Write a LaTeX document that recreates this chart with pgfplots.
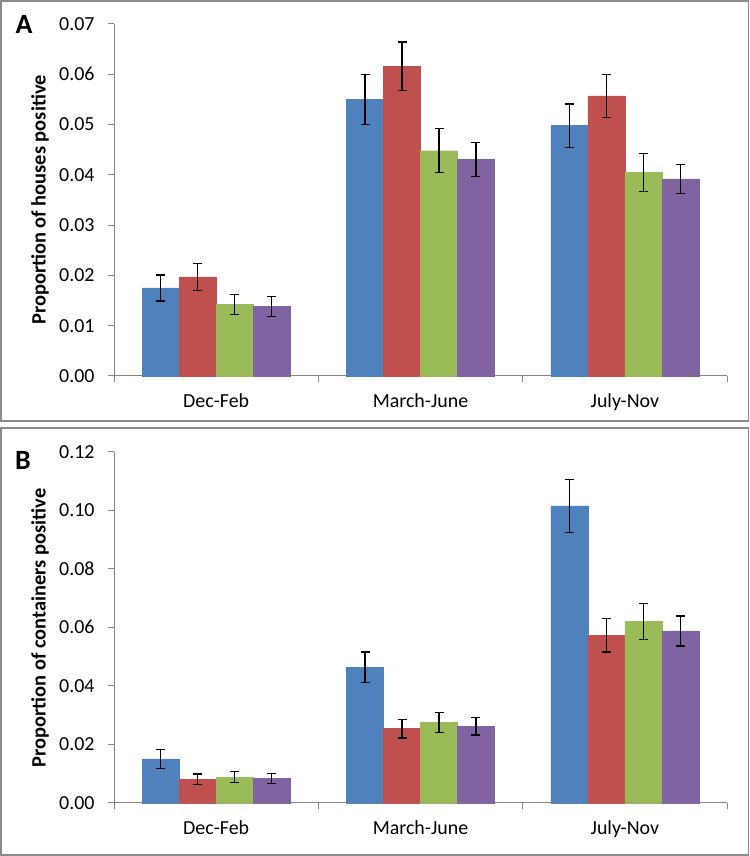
\documentclass[border=0pt]{standalone}
\usepackage{pgfplots}
\pgfplotsset{compat=1.18}
\usepackage{pgfplotstable}
\usepackage{fontspec}
\setmainfont{Carlito}
\definecolor{cblue}{HTML}{4F81BD}
\definecolor{cred}{HTML}{C0504D}
\definecolor{cgreen}{HTML}{9BBB59}
\definecolor{cpurple}{HTML}{8064A2}
\definecolor{axgray}{HTML}{868686}
\definecolor{framegray}{HTML}{8C8C8C}

\pgfplotstableread{
x b be r re g ge p pe
0 0.0175 0.0026 0.0197 0.0027 0.0142 0.0020 0.0138 0.0020
1 0.0550 0.0050 0.0616 0.0048 0.0448 0.0044 0.0431 0.0034
2 0.0498 0.0043 0.0557 0.0043 0.0405 0.0038 0.0392 0.0029
}\dataA
\pgfplotstableread{
x b be r re g ge p pe
0 0.0150 0.0033 0.0080 0.0018 0.0087 0.0019 0.0083 0.0018
1 0.0463 0.0052 0.0253 0.0032 0.0275 0.0034 0.0261 0.0030
2 0.1015 0.0091 0.0572 0.0057 0.0619 0.0062 0.0587 0.0051
}\dataB

\pgfplotsset{
  panel/.style={
    scale only axis, width=613bp, anchor=south west,
    ybar=0pt, bar width=0.181,
    xmin=-0.5, xmax=2.5, ymin=0,
    axis lines*=left,
    axis line style={axgray, line width=1bp},
    xtick={0,1,2}, xticklabels={Dec-Feb,March-June,July-Nov},
    major x tick style={draw=none},
    minor xtick={-0.5,0.5,1.5,2.5},
    tick align=outside,
    tick style={axgray, line width=1bp},
    major tick length=6bp, minor tick length=6bp,
    tick label style={font=\fontsize{20}{24}\selectfont, black},
    scaled y ticks=false,
    /pgf/number format/assume math mode=true,
    yticklabel style={xshift=-10bp, /pgf/number format/fixed, /pgf/number format/fixed zerofill, /pgf/number format/precision=2},
    xticklabel style={yshift=-8bp},
    clip=false,
  },
  myerr/.style={error bars/.cd, y dir=both, y explicit,
    error mark=|,
    error bar style={draw=black, line width=1.3bp},
    error mark options={draw=black, solid, mark size=4.5bp, line width=1.3bp}},
}

\begin{document}
\begin{tikzpicture}[x=1bp,y=1bp]
\useasboundingbox (0,0) rectangle (750,856);
\draw[framegray, line width=1.5bp] (1,435) rectangle (748.5,855);
\draw[framegray, line width=1.5bp] (1,1) rectangle (748.5,428);

\begin{axis}[panel, at={(114bp,480bp)}, height=352bp, ymax=0.07,
  ytick={0,0.01,0.02,0.03,0.04,0.05,0.06,0.07}]
\addplot[fill=cblue, draw=cblue, myerr] table[x=x, y=b, y error=be] {\dataA};
\addplot[fill=cred, draw=cred, myerr] table[x=x, y=r, y error=re] {\dataA};
\addplot[fill=cgreen, draw=cgreen, myerr] table[x=x, y=g, y error=ge] {\dataA};
\addplot[fill=cpurple, draw=cpurple, myerr] table[x=x, y=p, y error=pe] {\dataA};
\end{axis}

\begin{axis}[panel, at={(114bp,53.3bp)}, height=351bp, ymax=0.12,
  ytick={0,0.02,0.04,0.06,0.08,0.10,0.12}]
\addplot[fill=cblue, draw=cblue, myerr] table[x=x, y=b, y error=be] {\dataB};
\addplot[fill=cred, draw=cred, myerr] table[x=x, y=r, y error=re] {\dataB};
\addplot[fill=cgreen, draw=cgreen, myerr] table[x=x, y=g, y error=ge] {\dataB};
\addplot[fill=cpurple, draw=cpurple, myerr] table[x=x, y=p, y error=pe] {\dataB};
\end{axis}

\node[font=\fontsize{28}{32}\selectfont\bfseries] at (24,832) {A};
\node[font=\fontsize{28}{32}\selectfont\bfseries] at (23,396) {B};
\node[rotate=90, font=\fontsize{20.5}{24}\selectfont\bfseries] at (40,656) {Proportion of houses positive};
\node[rotate=90, font=\fontsize{20.5}{24}\selectfont\bfseries] at (40,228) {Proportion of containers positive};
\end{tikzpicture}
\end{document}
